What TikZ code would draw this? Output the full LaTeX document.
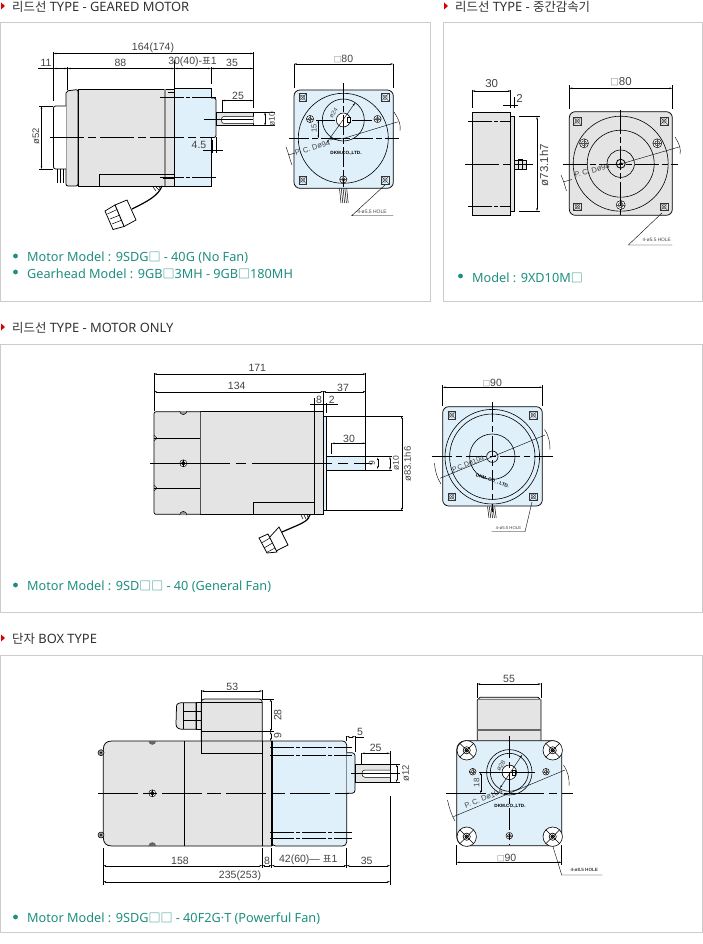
\documentclass[tikz,border=0pt]{standalone}
\usepackage{fontspec}
\setmainfont{Noto Sans}
\newfontfamily\dimf{Liberation Sans}
\newfontfamily\cjkf{Noto Sans CJK KR}
\usetikzlibrary{arrows.meta}
\definecolor{panelgray}{HTML}{CCCCCC}
\definecolor{bodygray}{HTML}{E4E4E4}
\definecolor{paleblue}{HTML}{DFF0FA}
\definecolor{tealtxt}{HTML}{1F8F7F}
\definecolor{headtxt}{HTML}{333333}
\definecolor{dimtxtc}{HTML}{444444}
\newcommand\kor[1]{{\cjkf\fontsize{12.4}{12}\selectfont #1}}
\newcommand\sq{{\cjkf\fontsize{12}{12}\selectfont □}}
\tikzset{
 x=1pt,y=-1pt,
 panel/.style={draw=panelgray,line width=.9pt,fill=white},
 headtext/.style={anchor=west,inner sep=0pt,text=headtxt,font=\fontsize{12.9}{12}\selectfont},
 redmark/.style={fill=red!85!black,draw=none},
 modeltext/.style={anchor=west,inner sep=0pt,text=tealtxt,font=\fontsize{12.7}{12}\selectfont},
 bullet/.style={fill=tealtxt,draw=none},
 outline/.style={draw=black,line width=.75pt},
 dimline/.style={draw=black,line width=.4pt},
 dimarrow/.style={draw=black,line width=.4pt,{Stealth[length=3pt,width=1.6pt]}-{Stealth[length=3pt,width=1.6pt]}},
 extline/.style={draw=black,line width=.55pt},
 centerline/.style={draw=black,line width=.6pt,dash pattern=on 34pt off 4pt on 8pt off 4pt},
 screwline/.style={draw=black,line width=.5pt,dash pattern=on 24pt off 2pt on 4pt off 2pt},
 dimtext/.style={inner sep=0pt,text=dimtxtc,font=\dimf\fontsize{10.5}{10.5}\selectfont},
 tinytext/.style={inner sep=0pt,text=dimtxtc,font=\dimf\fontsize{5}{5}\selectfont},
 logotext/.style={inner sep=0pt,text=black,font=\dimf\bfseries\fontsize{4.6}{5}\selectfont},
}
\newcount\lblc
\newcommand\Lbl[4][]{\global\advance\lblc by 1 \node[dimtext,#1] (lbl\the\lblc) at (#2,#3) {#4};}
\newcommand\Tinytxt[4][]{\global\advance\lblc by 1 \node[tinytext,#1] (lbl\the\lblc) at (#2,#3) {#4};}
\newcommand\Logotxt[4][]{\global\advance\lblc by 1 \node[logotext,#1] (lbl\the\lblc) at (#2,#3) {#4};}
\newcommand\Headl[2]{\global\advance\lblc by 1
  \fill[redmark] (1,#1-3.5) -- (5,#1) -- (1,#1+3.5) -- cycle;
  \node[headtext] (lbl\the\lblc) at (12,#1+1.3) {#2};}
\newcommand\HeadAt[3]{\global\advance\lblc by 1
  \fill[redmark] (#1-11,#2-3.5) -- (#1-7,#2) -- (#1-11,#2+3.5) -- cycle;
  \node[headtext] (lbl\the\lblc) at (#1,#2+1.3) {#3};}
\newcommand\Modelt[3]{\global\advance\lblc by 1
  \fill[bullet] (#1-11.5,#2) circle (2.4);
  \node[modeltext] (lbl\the\lblc) at (#1,#2+1.3) {#3};}
\newcommand\DimH[3]{\draw[dimarrow] (#1,#3) -- (#2,#3);}
\newcommand\DimV[3]{\draw[dimarrow] (#3,#1) -- (#3,#2);}
\newcommand\Crs[2]{% square-with-cross mounting hole
  \draw[line width=.35pt,draw=black!80] (#1-3.8,#2-3.8) rectangle (#1+3.8,#2+3.8);
  \draw[line width=.35pt,draw=black!80] (#1-3.8,#2-3.8) -- (#1+3.8,#2+3.8) (#1+3.8,#2-3.8) -- (#1-3.8,#2+3.8);
  \draw[line width=.35pt,draw=black!80] (#1,#2) circle (2.2);}
\newcommand\Holec[3]{% threaded hole
  \draw[line width=.5pt,fill=white] (#1,#2) circle (#3);
  \draw[line width=.7pt,draw=black!70] (#1,#2) circle (#3*.55);
  \draw[line width=.3pt,draw=black!70] (#1-#3,#2) -- (#1+#3,#2) (#1,#2-#3) -- (#1,#2+#3);}
\newcommand\Screwc[2]{\draw[line width=.5pt,fill=white] (#1,#2) circle (3.5);
  \draw[line width=.9pt] (#1,#2) circle (1.8);
  \draw[line width=.4pt] (#1-3.5,#2) -- (#1+3.5,#2) (#1,#2-3.5) -- (#1,#2+3.5);}
\newcommand\Wiresb[3]{% stripes below front view
  \foreach \k in {0,1,2,3,4}{\draw[line width=.5pt] (#1+\k*1.8,#2) -- (#1+\k*1.8+1.5,#3);}}
\begin{document}
\begin{tikzpicture}
\useasboundingbox (0,0) rectangle (703,944);
\fill[white] (0,0) rectangle (703,944);
% panels
\draw[panel] (.5,22.5) rectangle (430,301);
\draw[panel] (443.5,22.5) rectangle (702.5,301);
\draw[panel] (.5,344.5) rectangle (702.5,612);
\draw[panel] (.5,655.5) rectangle (702.5,932);
% headers
\Headl{6}{\kor{리드선} TYPE - GEARED MOTOR}
\HeadAt{455}{6}{\kor{리드선} TYPE - \kor{중간감속기}}
\Headl{327}{\kor{리드선} TYPE - MOTOR ONLY}
\Headl{638}{\kor{단자} BOX TYPE}
% model lines
\Modelt{27}{256}{Motor Model : 9SDG\sq{} - 40G (No Fan)}
\Modelt{27}{272}{Gearhead Model : 9GB\sq{}3MH - 9GB\sq{}180MH}
\Modelt{472}{276}{Model : 9XD10M\sq{}}
\Modelt{27}{585}{Motor Model : 9SD\sq\sq{} - 40 (General Fan)}
\Modelt{27}{917}{Motor Model : 9SDG\sq\sq{} - 40F2G·T (Powerful Fan)}

%%%%%%% PANEL 1 side view
\draw[outline,fill=bodygray,rounded corners=2pt] (66,186) -- (66,91) -- (78,89.5) -- (78,186) -- cycle;
\draw[outline,fill=white,rounded corners=2pt] (66,106) -- (53.5,106) -- (53.5,169) -- (66,169);
\draw[outline] (57,169) -- (57,183) (60,169) -- (60,183) (63,169) -- (63,183);
\draw[outline,fill=bodygray] (78,89) rectangle (174.5,186);
\draw[line width=1.3pt,draw=black!45] (165,89.5) -- (165,185.5);
\draw[outline] (99.5,186) -- (99.5,174) -- (174.5,174);
\draw[outline,fill=paleblue] (174.5,88.5) rectangle (211,186);
\draw[outline,fill=paleblue,rounded corners=2pt] (211,98) -- (216,98) -- (216,137.5) -- (211,137.5);
\draw[outline,fill=bodygray] (216.5,112.3) rectangle (253.5,125.7);
\draw[line width=.5pt,fill=white,rounded corners=2.5pt] (253.5,116.5) -- (221.5,116.5) -- (221.5,123.5) -- (253.5,123.5);
\draw[centerline] (50,137) -- (211,137);
\draw[dimline] (204,119) -- (253,119);
\draw[screwline] (160,97.5) -- (217,97.5) (160,177) -- (217,177);
\draw[dimline] (168,92.5) -- (174,92.5) (163,178) -- (174,178);
% connector
\draw[line width=1.2pt,rounded corners=2pt] (162,186) .. controls (158,196) and (148,201) .. (132,209);
\draw[line width=.5pt] (153,187) -- (156,191) (156,187) -- (159,190) (159,187) -- (161,190);
\draw[outline,fill=white] (115,205) -- (127,200) -- (136,220) -- (124,226.5) -- cycle;
\draw[outline,fill=white] (105,211) -- (115,205) -- (124,226.5) -- (113,229.5) -- cycle;
\draw[line width=.5pt] (107.5,214) -- (117,209.5) (110,219) -- (120,215) (112,224) -- (122,220);
% dims
\draw[extline] (53.5,52) -- (53.5,101) (253.5,52) -- (253.5,108) (67.5,67) -- (67.5,90)
 (174.5,60) -- (174.5,88) (211,67) -- (211,84) (222,100) -- (222,112);
\DimH{53.5}{253.5}{53.5} \draw[dimline] (38,68.5) -- (53.5,68.5); \DimH{53.5}{67.5}{68.5}\DimH{67.5}{174.5}{68.5}\DimH{174.5}{211}{68.5}\DimH{211}{253.5}{68.5}
\DimH{222}{253.5}{100.5}
\Lbl{153}{48}{164(174)} \Lbl{46}{62.5}{11} \Lbl{120.5}{62.5}{88} \Lbl{192.5}{61.5}{30(40)-{\cjkf\fontsize{9.5}{9}\selectfont 표}1} \Lbl{232}{63}{35} \Lbl{238}{96}{25}
\draw[extline] (253,112.3) -- (275,112.3) (253,125.7) -- (275,125.7);
\DimV{112.3}{125.7}{265}
\Lbl[rotate=90,font=\dimf\fontsize{8.5}{8.5}\selectfont]{272}{119}{ø10}
\Lbl{199}{145}{4.5}
\draw[dimline] (203,150.7) -- (223,150.7) (212,140) -- (212,153) (216.5,137) -- (216.5,153);
\draw[extline] (39,106) -- (53,106) (39,169) -- (53,169);
\DimV{106}{169}{41.5}
\Lbl[rotate=90,font=\dimf\fontsize{9.5}{9.5}\selectfont]{36}{136}{ø52}
%%%%%%% front view
\draw[outline,fill=paleblue,rounded corners=6pt] (294,90) rectangle (393.3,188.3);
\draw[line width=.6pt] (343.3,138.3) circle (45);
\draw[line width=.6pt] (343.3,120) circle (21);
\draw[line width=.6pt,fill=white] (343.3,120) circle (7);
\draw[line width=.6pt,fill=white] (347.3,117.5) rectangle (350.7,122.7);
\foreach \p/\q in {302.7/97.3,385/97.3,302.7/180,385/180}{\Crs{\p}{\q}}
\foreach \p/\q in {310/119,377.5/119,343.3/179.5}{\Holec{\p}{\q}{3.6}}
\draw[centerline,dash pattern=on 20pt off 3pt on 6pt off 3pt] (289,138.3) -- (399,138.3);
\draw[centerline,dash pattern=on 20pt off 3pt on 6pt off 3pt] (343.3,83) -- (343.3,187);
\draw[dimline] (316,120) -- (335,120) (352,120) -- (372,120);
\DimV{120}{138.3}{318.3}
\Lbl[rotate=90,font=\dimf\fontsize{7.5}{7.5}\selectfont]{314}{128.5}{15}
\draw[dimarrow] (326.5,143) -- (355,103);
\Lbl[rotate=55,font=\dimf\fontsize{6}{6}\selectfont]{333.5}{113}{ø24}
\draw[dimline] (398.3,121.7) -- (345,138) -- (330,140);
\draw[dimline] (288.3,155) -- (295,153);
\draw[dimline] (394,112) .. controls (399,120) and (401,124) .. (400,131);
\draw[dimline] (286,146.7) .. controls (289,155) and (290,160) .. (292,165);
\Lbl[rotate=17,font=\dimf\fontsize{7.5}{7.5}\selectfont]{312.5}{148}{P. C. Dø94}
\Logotxt{346}{152.8}{DKM.CO.,LTD.}
\Wiresb{339.5}{188.5}{203}
\draw[dimline] (385,185) -- (351.7,215.7) -- (393.3,215.7);
\Tinytxt{372}{212}{4-ø5.5 HOLE}
\draw[extline] (294,64) -- (294,88) (393.3,64) -- (393.3,88);
\DimH{294}{393.3}{64}
\Lbl{343.5}{59}{{\cjkf\fontsize{7.5}{7.5}\selectfont □}80}

%%%%%%% PANEL 2
\draw[outline,fill=bodygray] (510.7,116.7) rectangle (514,211);
\draw[outline,fill=bodygray] (472.3,112.3) rectangle (510.7,215.3);
\draw[outline,fill=bodygray] (514,160) rectangle (526.7,169);
\draw[line width=.7pt] (518,159) rectangle (522,169);
\draw[centerline] (465,164.3) -- (533,164.3);
\draw[screwline] (468,121) -- (511,121) (468,206.7) -- (511,206.7);
\draw[extline] (472.3,90) -- (472.3,108) (510.7,90) -- (510.7,108) (514,97) -- (514,108)
 (519,116.7) -- (540,116.7) (519,211) -- (540,211);
\DimH{472.3}{510.7}{91}
\draw[dimline] (503,105) -- (518,105);
\DimV{116.7}{211}{537}
\Lbl[font=\dimf\fontsize{11.5}{11.5}\selectfont]{491.7}{84}{30}
\Lbl[font=\dimf\fontsize{11.5}{11.5}\selectfont]{519.5}{98}{2}
\Lbl[rotate=90,font=\dimf\fontsize{11.5}{11.5}\selectfont]{544}{165}{ø73.1h7}
\draw[outline,fill=bodygray,rounded corners=6pt] (569.3,111.7) rectangle (672.3,215.3);
\draw[line width=.6pt] (620.7,163.7) circle (47.5);
\draw[line width=.6pt] (620.7,163.7) circle (33.5);
\draw[line width=.6pt] (620.7,163.7) circle (13.7);
\draw[line width=.8pt] (620.7,163.7) circle (4.5);
\fill (620.7,163.7) circle (1.5);
\foreach \p/\q in {577.3/121,664/121,577.3/206.7,664/206.7}{\Crs{\p}{\q}}
\foreach \p/\q in {584/143.3,657.3/143.3,620.7/205}{\Holec{\p}{\q}{4.5}}
\draw[centerline,dash pattern=on 24pt off 3pt on 6pt off 3pt] (562.7,164.3) -- (678.3,164.3);
\draw[centerline,dash pattern=on 24pt off 3pt on 6pt off 3pt] (620.7,110) -- (620.7,217);
\draw[dimline] (680,146.7) -- (620.7,164);
\draw[dimline] (564,181.7) -- (572,179.5);
\draw[dimline] (675,137) .. controls (680,145) and (681,150) .. (680,154);
\draw[dimline] (561,175) .. controls (564,182) and (565,186) .. (566.5,191);
\Lbl[rotate=16,font=\dimf\fontsize{7.5}{7.5}\selectfont]{592}{170.5}{P. C. Dø94}
\draw[extline] (569.3,85) -- (569.3,109) (672.3,85) -- (672.3,109);
\DimH{569.3}{672.3}{88.3}
\Lbl[font=\dimf\fontsize{11.5}{11.5}\selectfont]{621}{82}{{\cjkf\fontsize{8.5}{8.5}\selectfont □}80}
\draw[dimline] (662,213) -- (628.3,245) -- (672.3,245);
\Tinytxt[font=\dimf\fontsize{4.8}{5}\selectfont]{656.7}{240.3}{4-ø5.5 HOLE}

%%%%%%% PANEL 3
\draw[outline,fill=paleblue] (323.3,416) rectangle (326,510.7);
\draw[outline,fill=bodygray] (200.3,411.7) rectangle (323.3,514.3);
\draw[outline,fill=bodygray,rounded corners=2pt] (200.3,411.7) -- (154,411.7) -- (154,514.3) -- (200.3,514.3);
\draw[outline] (154,438.3) -- (200.3,438.3) (154,488.3) -- (200.3,488.3);
\draw[dimline] (154,435) -- (157,438.3) -- (154,441) (154,485) -- (157,488.3) -- (154,491);
\draw[outline] (314.3,411.7) -- (314.3,514.3) (253.3,514.3) -- (253.3,502.3) -- (314.3,502.3);
\draw[outline,fill=paleblue] (326,456.7) rectangle (365.7,470);
\draw[centerline,dash pattern=on 80pt off 6pt on 10pt off 6pt] (150,463.3) -- (372,463.3);
\Screwc{183.3}{463.3}
\draw[line width=.5pt,fill=black!40] (179.7,411) arc[start angle=180,end angle=0,radius=3.6];
\draw[line width=.5pt,fill=black!40] (179.7,515) arc[start angle=180,end angle=360,radius=3.6];
% connector
\draw[line width=1.2pt] (310,515) .. controls (308,522) and (300,524) .. (282,532);
\draw[line width=.5pt] (301,515) -- (303,519) (304,515) -- (306,519) (307,515) -- (309,519);
\draw[outline,fill=white] (268,539) -- (279,527) -- (288,545) -- (274,552) -- cycle;
\draw[outline,fill=white] (259,538) -- (268,534) -- (277,552) -- (267,553) -- cycle;
\draw[line width=.5pt] (261.5,543) -- (270,538) (264,548) -- (272.5,543) (266.5,552.5) -- (275,548);
% dims
\draw[extline] (154,373) -- (154,411) (365.7,373) -- (365.7,456.7) (323.3,391) -- (323.3,411)
 (314.3,398) -- (314.3,411) (326.7,403) -- (326.7,413);
\DimH{154}{365.7}{374}\DimH{154}{323.3}{391.7}\DimH{323.3}{365.7}{391.7}
\draw[dimline] (310,404) -- (338,404);
\Lbl{257.3}{367.7}{171}\Lbl{236.7}{386}{134}\Lbl{343}{387.7}{37}\Lbl{319}{400}{8}\Lbl{331.7}{400}{2}\Lbl{349}{439}{30}
\draw[extline] (327,416) -- (403,416) (327,510.7) -- (403,510.7) (331.7,443) -- (331.7,454);
\DimV{416}{510.7}{401.7}
\DimH{331.7}{365.7}{443.3}
\Lbl[rotate=90,font=\dimf\fontsize{9.5}{9.5}\selectfont]{407.5}{464}{ø83.1h6}
\draw[extline] (365.7,456.7) -- (392,456.7) (365.7,470) -- (392,470);
\DimV{457.5}{469}{377.7}\DimV{456.7}{470}{390}
\Lbl[rotate=90,font=\dimf\fontsize{8.5}{8.5}\selectfont]{372}{463.5}{9}
\Lbl[rotate=90,font=\dimf\fontsize{8.5}{8.5}\selectfont]{396}{463.5}{ø10}
% front
\draw[outline,fill=paleblue,rounded corners=6pt] (442.7,406.7) rectangle (542.3,506);
\draw[line width=.6pt] (492.3,456.7) circle (47.3);
\draw[line width=.6pt] (492.3,456.7) circle (42.7);
\draw[line width=.6pt] (492.3,456.7) circle (22.7);
\draw[line width=.6pt] (492.3,456.7) circle (5.7);
\foreach \p/\q in {451.7/415,533.3/415,451.7/496.7,533.3/496.7}{\Crs{\p}{\q}}
\draw[centerline,dash pattern=on 20pt off 4pt on 6pt off 4pt] (431.7,456.7) -- (552.7,456.7);
\draw[centerline,dash pattern=on 20pt off 4pt on 6pt off 4pt] (492.3,402.3) -- (492.3,511.7);
\draw[dimline] (440,478.3) -- (545,435);
\draw[dimline] (544.5,429.5) .. controls (549,436) and (550,443) .. (550,450);
\draw[dimline] (434.5,463) .. controls (435,471) and (437,478) .. (441,484);
\Lbl[rotate=22,font=\dimf\fontsize{7}{7}\selectfont]{468}{464}{P.C.Dø104}
\Logotxt[rotate=-20]{492.5}{481}{DKM. CO. , LTD.}
\Wiresb{487.5}{506.5}{518}
\draw[dimline] (532,502) -- (525,531.7) -- (491.7,531.7);
\Tinytxt[font=\dimf\fontsize{4.3}{5}\selectfont]{508.5}{527.7}{4-ø5.5 HOLE}
\draw[extline] (442.7,385) -- (442.7,406) (542.3,385) -- (542.3,406);
\DimH{442.7}{542.3}{387.3}
\Lbl{492.3}{382.5}{{\cjkf\fontsize{7.5}{7.5}\selectfont □}90}

%%%%%%% PANEL 4
% terminal box
\draw[outline,fill=bodygray] (176.5,707) .. controls (176,703) and (180,702.7) .. (183,702.7) -- (196,702.7) -- (196,729.3) -- (183,729.3) .. controls (179,729.3) and (176,728) .. (176,724) -- cycle;
\draw[outline] (183,702.7) -- (183,729.3) (183,711.5) -- (196,711.5) (183,720.5) -- (196,720.5);
\draw[outline,fill=bodygray] (196,702.7) rectangle (201.3,729.3);
\draw[dimline] (196,711.5) -- (201.3,711.5) (196,720.5) -- (201.3,720.5);
\draw[outline,fill=bodygray,rounded corners=3pt] (201.3,753.3) -- (201.3,699) -- (262.3,699) -- (262.3,753.3);
\draw[outline,fill=bodygray] (103.3,750) .. controls (103.3,744) and (106,741) .. (112,741) -- (271.7,741) -- (271.7,846) -- (112,846) .. controls (106,846) and (103.3,843) .. (103.3,837) -- cycle;
\draw[outline] (184.3,741) -- (184.3,846) (262.3,741) -- (262.3,846) (201.3,699) -- (201.3,753.3) -- (262.3,753.3);
\draw[outline] (201.3,702.3) -- (262.3,702.3) (201.3,731.7) -- (262.3,731.7);
\draw[outline,fill=paleblue,rounded corners=4pt] (271.7,741) -- (346.7,741) -- (346.7,846) -- (271.7,846) [sharp corners] -- cycle;
\draw[line width=2pt] (271.7,741) -- (271.7,846);
\draw[outline,fill=paleblue,rounded corners=3pt] (346.7,752.7) -- (355,752.7) -- (355,793.3) -- (346.7,793.3);
\draw[outline,fill=bodygray] (355.7,764.3) rectangle (390,782.3);
\draw[line width=.5pt,fill=white,rounded corners=3pt] (390,770) -- (362,770) -- (362,777.3) -- (390,777.3);
\draw[centerline,dash pattern=on 40pt off 5pt on 14pt off 5pt] (98,793.3) -- (353,793.3);
\draw[screwline] (270,747.3) -- (352,747.3) (270,755) -- (352,755) (270,832.7) -- (352,832.7) (270,838.3) -- (352,838.3);
\draw[dimline] (351,773.3) -- (397,773.3);
\Screwc{152.3}{793.3}
\foreach \p/\q in {101/752.7,101/835}{\draw[line width=.5pt,fill=black!40] (\p,\q) circle (3);\fill (\p,\q) circle (1.2);}
\fill[black!60] (148.5,741) arc[start angle=180,end angle=0,radius=3.8];
\fill[black!60] (148.5,846) arc[start angle=180,end angle=360,radius=3.8];
% dims
\draw[extline] (201.3,690) -- (201.3,699) (262.3,690) -- (262.3,699) (262.3,699) -- (274,699) (262.3,731.7) -- (274,731.7)
 (346.7,736) -- (346.7,741) (355,736) -- (355,752) (361.7,753) -- (361.7,764) (390,751) -- (390,764)
 (390,773) -- (400,773) (390,764.3) -- (400,764.3) (390,782.3) -- (400,782.3)
 (103.3,848) -- (103.3,885) (390,796) -- (390,885) (262.3,848) -- (262.3,868) (271.7,848) -- (271.7,868) (346.7,848) -- (346.7,868);
\DimH{201.3}{262.3}{691}
\DimV{699}{731.7}{270.7}\DimV{731.7}{741}{270.7}
\DimH{346.7}{355}{736.7}
\draw[dimline] (355,736.7) -- (364,736.7);
\DimH{361.7}{390}{753.3}
\DimV{764.3}{782.3}{396.7}
\DimH{103.3}{262.3}{865.7}\DimH{262.3}{271.7}{865.7}\DimH{271.7}{346.7}{865.7}\DimH{346.7}{390}{865.7}
\DimH{103.3}{390}{881.7}
\Lbl{232.3}{687.3}{53}
\Lbl[rotate=90]{277.7}{715}{28}
\Lbl[rotate=90]{277.7}{736}{9}
\Lbl{360}{731.7}{5}
\Lbl{375.7}{748.3}{25}
\Lbl[rotate=90,font=\dimf\fontsize{9.5}{9.5}\selectfont]{405.7}{773.3}{ø12}
\Lbl{180}{860.7}{158}
\Lbl{267}{860.7}{8}
\Lbl{308.3}{859.5}{42(60)— {\cjkf\fontsize{9.5}{9}\selectfont 표}1}
\Lbl{366.7}{860.7}{35}
\Lbl{240}{876}{235(253)}
% front
\draw[outline,fill=bodygray] (477.3,740.7) -- (477.3,700) -- (480,697.3) -- (538,697.3) -- (541,700) -- (541,740.7);
\draw[line width=1.6pt,draw=black!50] (477.5,699.5) -- (541,699.5);
\draw[line width=1.4pt,draw=black!60] (477.3,730) -- (541,730);
\draw[outline,fill=paleblue,rounded corners=9pt] (456.7,740.7) rectangle (561.7,845.7);
\foreach \p/\q in {466.7/750.3,552.7/750.3,466.7/836.7,552.7/836.7}{
 \draw[line width=.6pt,fill=white] (\p,\q) circle (9.7);
 \draw[line width=.6pt] (\p,\q) circle (3.6);
 \draw[line width=.5pt] (\p-7,\q-7) -- (\p+7,\q+7) (\p+7,\q-7) -- (\p-7,\q+7);
 \draw[line width=.7pt] (\p,\q) circle (1.8);}
\foreach \p/\q in {472.7/771.7,546/771.7,509.3/835.7}{\Holec{\p}{\q}{3.3}}
\draw[line width=.6pt] (509.3,772.3) circle (22.7);
\draw[line width=.6pt] (509.3,772.3) circle (19);
\draw[line width=.6pt,fill=white] (509.3,772.3) circle (7.3);
\draw[line width=.6pt,fill=white] (512,770) rectangle (515,775);
\draw[centerline,dash pattern=on 40pt off 5pt on 8pt off 5pt] (446,793.3) -- (572.7,793.3);
\draw[centerline,dash pattern=on 22pt off 4pt on 6pt off 4pt] (509.3,736) -- (509.3,845);
\draw[dimline] (479,772.3) -- (534.7,772.3);
\DimV{772.3}{793.3}{480.7}
\Lbl[rotate=90,font=\dimf\fontsize{8}{8}\selectfont]{476.7}{782.7}{18}
\draw[dimarrow] (500,788) -- (522,755);
\Lbl[rotate=55,font=\dimf\fontsize{6.5}{7}\selectfont]{501}{765.7}{ø28}
\draw[dimline] (453.3,816.7) -- (565,770);
\draw[dimline] (563.5,765) .. controls (568,772) and (569.5,778) .. (569,786);
\draw[dimline] (447.5,800) .. controls (449,807) and (451,814) .. (455,821);
\Lbl[rotate=22,font=\dimf\fontsize{7.5}{7.5}\selectfont]{483.5}{798.5}{P. C. Dø104}
\Logotxt{510}{806.5}{DKM.CO.,LTD.}
\draw[dimline] (553,846.7) -- (561.7,875) -- (602.3,875);
\Tinytxt[font=\dimf\bfseries\fontsize{4.6}{5}\selectfont]{584.3}{870}{4-ø8.5 HOLE}
\draw[extline] (456.7,845) -- (456.7,865) (561.7,845) -- (561.7,865) (477.3,683) -- (477.3,698) (541,683) -- (541,698);
\DimH{456.7}{561.7}{862.3}
\DimH{477.3}{541}{684}
\Lbl{509}{679.3}{55}
\Lbl{506.7}{857.5}{{\cjkf\fontsize{7.5}{7.5}\selectfont □}90}
\end{tikzpicture}
\end{document}
